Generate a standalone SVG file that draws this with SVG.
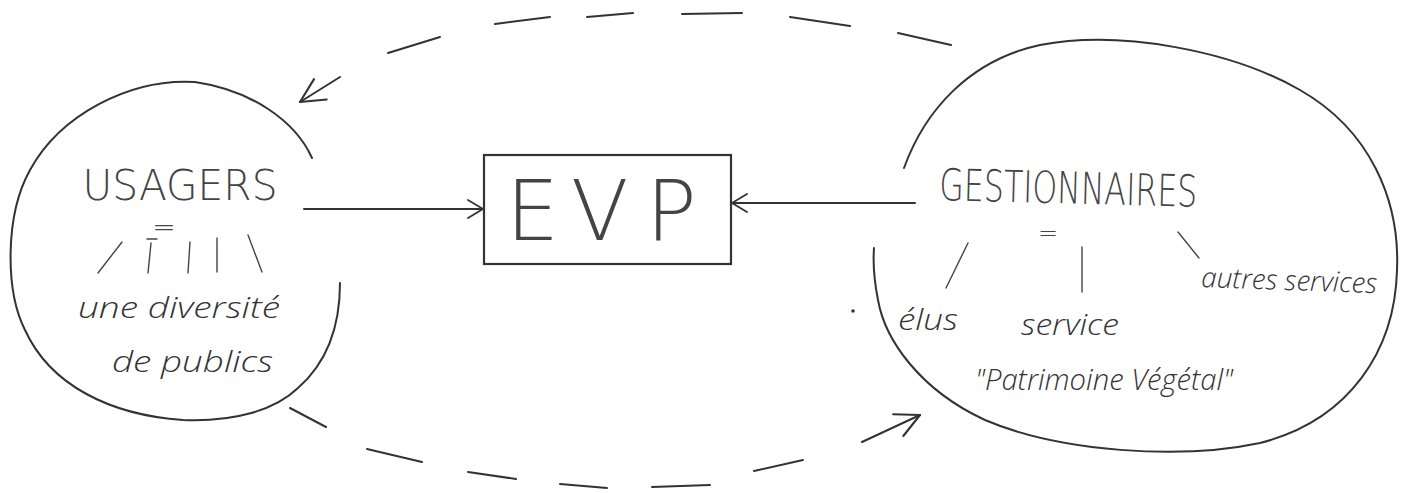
<svg xmlns="http://www.w3.org/2000/svg" width="1406" height="493" viewBox="0 0 1406 493">
<style>
.ln{fill:none;stroke:#333;stroke-width:2;stroke-linecap:round;stroke-linejoin:round}
.thin{fill:none;stroke:#444;stroke-width:1.4;stroke-linecap:round}
.cap{font-family:"DejaVu Sans","Liberation Sans",sans-serif;font-weight:200;fill:#444}
.hand{font-family:"Open Sans","Liberation Sans",sans-serif;font-style:italic;font-weight:300;fill:#333}
</style>
<defs>
<marker id="ah" viewBox="0 0 20 20" refX="19" refY="10" markerWidth="20" markerHeight="20" markerUnits="userSpaceOnUse" orient="auto">
<path d="M4,1 L19,10 L4,19" fill="none" stroke="#333" stroke-width="1.8" stroke-linecap="round" stroke-linejoin="round"/>
</marker>
<marker id="ahL" viewBox="0 0 20 20" refX="19" refY="10" markerWidth="30" markerHeight="30" markerUnits="userSpaceOnUse" orient="auto">
<path d="M3,2 L19,10 L3,18" fill="none" stroke="#333" stroke-width="1.4" stroke-linecap="round" stroke-linejoin="round"/>
</marker>
</defs>
<rect width="1406" height="493" fill="#fff"/>

<g id="usagers">
<path class="ln" d="M312,158 C295,120 250,90 195,82 C130,78 60,115 30,170 C5,215 5,290 25,330 C50,385 110,415 183,420 C235,422 275,410 298,388 C330,360 340,320 340,283"/>
<text class="cap" x="180" y="200" font-size="42" text-anchor="middle" textLength="195" lengthAdjust="spacingAndGlyphs">USAGERS</text>
<text class="cap" x="164" y="236" font-size="28" text-anchor="middle">=</text>
<path class="thin" d="M98,273 L122,242 M151,243 L148,273 M147,239 L157,239 M190,242 L188,273 M217,238 L217,272 M248,235 L262,272"/>
<text class="hand" x="78" y="318" font-size="30" textLength="202" lengthAdjust="spacingAndGlyphs">une diversité</text>
<text class="hand" x="112" y="372" font-size="30" textLength="161" lengthAdjust="spacingAndGlyphs">de publics</text>
</g>

<g id="evp">
<rect x="484" y="155" width="247" height="109" fill="none" stroke="#333" stroke-width="2.2"/>
<text class="cap" x="506 571 646" y="240" font-size="84">EVP</text>
</g>

<g id="gestionnaires">
<path class="ln" d="M904,168 C925,110 970,60 1040,45 C1120,30 1230,50 1300,90 C1370,130 1400,200 1397,270 C1395,350 1350,420 1260,443 C1180,460 1060,452 985,420 C920,390 885,340 878,300 C874,280 873,262 874,248"/>
<text class="cap" x="939" y="200" font-size="44" textLength="258" lengthAdjust="spacingAndGlyphs" transform="rotate(1.5 939 200)">GESTIONNAIRES</text>
<text class="cap" x="1048" y="241" font-size="24" text-anchor="middle">=</text>
<path class="thin" d="M968,243 L946,288 M1082,247 L1082,292 M1178,232 L1199,258"/>
<text class="hand" x="898" y="330" font-size="30" textLength="60" lengthAdjust="spacingAndGlyphs">élus</text>
<text class="hand" x="1021" y="335" font-size="30" textLength="98" lengthAdjust="spacingAndGlyphs">service</text>
<text class="hand" x="1201" y="287" font-size="28" textLength="176" lengthAdjust="spacingAndGlyphs" transform="rotate(2 1201 287)">autres services</text>
<text class="hand" x="975" y="390" font-size="30" textLength="258" lengthAdjust="spacingAndGlyphs">"Patrimoine Végétal"</text>
<circle cx="853" cy="311" r="1.8" fill="#333"/>
</g>

<g id="connectors">
<path class="ln" d="M304,209 L483,209" marker-end="url(#ah)"/>
<path class="ln" d="M915,203 L732,203" marker-end="url(#ah)"/>
<path class="ln" d="M951,45 L898,33 M850,26 L790,17 M742,13 L682,14 M633,13 L587,17 M550,17 L495,24 M440,37 L388,53 M340,77 L300,102" marker-end="url(#ahL)"/>
<path class="ln" d="M290,408 L326,427 M367,449 L422,462 M468,472 L516,479 M560,484 L607,488 M652,487 L710,485 M754,471 L803,460 M862,442 L920,415" marker-end="url(#ahL)"/>
</g>
</svg>
